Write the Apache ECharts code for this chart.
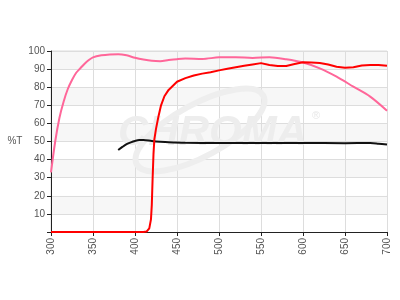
<!DOCTYPE html>
<html>
<head>
<meta charset="utf-8">
<script src="https://cdn.jsdelivr.net/npm/echarts@6/dist/echarts.min.js"></script>
<style>html,body{margin:0;padding:0;background:#fff}#c{width:400px;height:300px}</style>
</head>
<body>
<div id="c"></div>
<script>
var xTicks = [300, 350, 400, 450, 500, 550, 600, 650, 700];
var yTicks = [10, 20, 30, 40, 50, 60, 70, 80, 90, 100];

var pinkX = [300,305,310,315,320,325,330,335,340,345,350,360,370,380,390,400,410,420,430,440,450,460,480,500,520,540,560,580,600,620,640,660,680,700];
var pinkY = [33,50,63,72,79,84,88,90.5,93,95,96.5,97.6,98.1,98.2,97.6,96.3,95.3,94.6,94.4,95,95.5,95.8,95.6,96.5,96.6,96.2,96.5,95.4,93.6,90.4,85.8,80.3,74.8,67];

var redX = [300,350,400,410,414,417,419,420,421,422,423,425,428,431,435,440,450,460,470,480,490,500,510,520,530,540,550,560,570,580,590,600,610,620,630,640,650,660,670,680,690,700];
var redY = [0,0,0,0,0.3,2,7,15,30,43,51,57,64,70,75,78.5,83,85,86.5,87.5,88.3,89.3,90.2,91,91.8,92.6,93.3,92.3,91.7,91.7,92.8,93.8,93.7,93.4,92.5,91.3,90.8,91,92,92.2,92.2,91.8];

var blackX = [380,385,390,395,400,405,410,420,430,440,460,500,550,600,650,680,690,700];
var blackY = [45.3,47,48.5,49.5,50.3,50.8,50.8,50.3,49.9,49.6,49.3,49.2,49.2,49.2,49.1,49.2,48.8,48.3];

function pairs(xs, ys){ return xs.map(function(x,i){ return [x, ys[i]]; }); }

var chart = echarts.init(document.getElementById('c'), null, {renderer:'canvas'});
chart.setOption({
  animation: false,
  grid: { left: 51, right: 13, top: 51, bottom: 68, show: true, borderColor: '#dddddd', borderWidth: 1, backgroundColor: 'transparent' },
  graphic: [
    { type: 'ellipse', z: 1, rotation: 0.5, x: 200, y: 130, shape: { cx: 0, cy: 0, rx: 72, ry: 26 }, style: { fill: 'none', stroke: '#eeeeee', lineWidth: 6 } },
    { type: 'text', z: 1, left: 118, top: 112, style: { text: 'CHROMA', font: 'italic bold 42px "Liberation Sans", Arial, sans-serif', fill: '#ededed' } },
    { type: 'text', z: 1, left: 312, top: 110, style: { text: '®', font: '11px "Liberation Sans", Arial, sans-serif', fill: '#e8e8e8' } }
  ],
  xAxis: {
    type: 'value', min: 300, max: 700, interval: 50,
    axisLine: { show: true, onZero: false, lineStyle: { color: '#222', width: 1 } },
    axisTick: { show: true, length: 4, lineStyle: { color: '#222' } },
    axisLabel: { rotate: 90, color: '#555', fontSize: 10, fontFamily: '"Liberation Sans", Arial, sans-serif', margin: 6 },
    splitLine: { show: true, lineStyle: { color: '#dddddd', width: 1 } }
  },
  yAxis: {
    type: 'value', min: 0, max: 100, interval: 10,
    name: '%T', nameLocation: 'middle', nameRotate: 0, nameGap: 27,
    nameTextStyle: { color: '#555', fontSize: 10, fontFamily: '"Liberation Sans", Arial, sans-serif' },
    axisLine: { show: true, lineStyle: { color: '#222', width: 1 } },
    axisTick: { show: true, length: 4, lineStyle: { color: '#222' } },
    axisLabel: { color: '#555', fontSize: 10, fontFamily: '"Liberation Sans", Arial, sans-serif', margin: 6,
      formatter: function(v){ return yTicks.indexOf(v) >= 0 ? String(v) : ''; } },
    splitLine: { show: true, lineStyle: { color: '#dddddd', width: 1 } },
    splitArea: { show: true, areaStyle: { color: ['#ffffff', '#f7f7f7'] } }
  },
  series: [
    { type: 'line', data: pairs(pinkX, pinkY), showSymbol: false, smooth: 0.3, z: 3, lineStyle: { color: '#ff6699', width: 2 } },
    { type: 'line', data: pairs(blackX, blackY), showSymbol: false, smooth: 0.3, z: 3, lineStyle: { color: '#111111', width: 2 } },
    { type: 'line', data: pairs(redX, redY), showSymbol: false, smooth: false, z: 4, lineStyle: { color: '#ff0000', width: 2 } }
  ]
});
</script>
</body>
</html>
